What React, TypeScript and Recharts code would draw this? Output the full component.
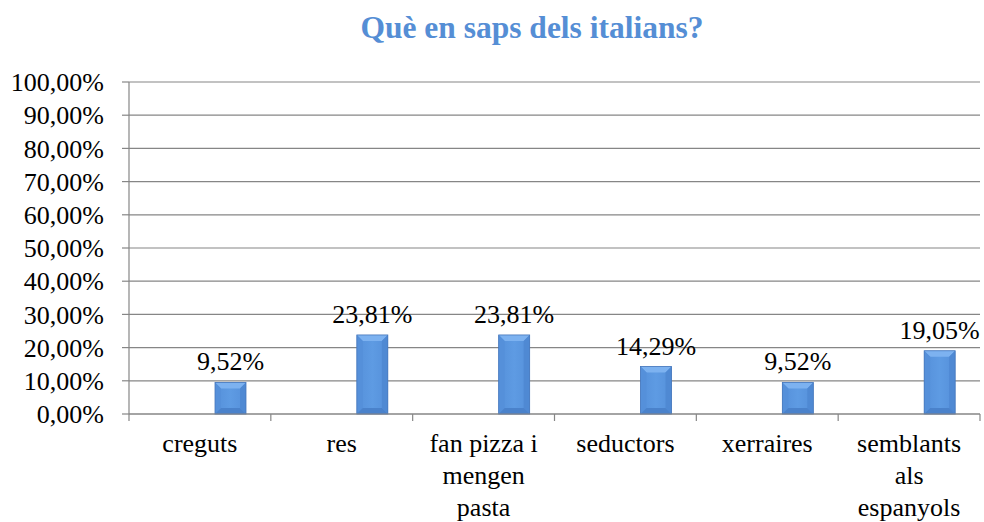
import React from 'react'
import { BarChart, Bar, XAxis, YAxis, CartesianGrid, LabelList } from 'recharts'

const categories = ['creguts', 'res', 'fan pizza i mengen pasta', 'seductors', 'xerraires', 'semblants als espanyols']
const percentages = [9.52, 23.81, 23.81, 14.29, 9.52, 19.05]
const yTicks = [0, 10, 20, 30, 40, 50, 60, 70, 80, 90, 100]

const chartData = categories.map((name, i) => ({ name, value: percentages[i] }))

const FONT = 'Liberation Serif'
const GRID = '#868686'

const fmt = (v: number) => v.toFixed(2).replace('.', ',') + '%'

// word wrap the category names like Excel does
let ctx: CanvasRenderingContext2D | null = null
const wrap = (label: string, maxWidth: number) => {
  if (!ctx) {
    ctx = document.createElement('canvas').getContext('2d')
  }
  if (!ctx) return [label]
  ctx.font = `26px "${FONT}"`
  const lines: string[] = []
  let cur = ''
  label.split(' ').forEach((w) => {
    const next = cur ? cur + ' ' + w : w
    if (cur && ctx!.measureText(next).width > maxWidth) {
      lines.push(cur)
      cur = w
    } else {
      cur = next
    }
  })
  if (cur) lines.push(cur)
  return lines
}

// Excel-style bevelled bar
const BevelBar = (props: any) => {
  const { x, y, width, height } = props
  if (!height || height <= 0) return null
  const b = Math.min(6, height / 3, width / 4)
  return (
    <g>
      <rect x={x} y={y} width={width} height={height} fill="url(#barBody)" />
      <polygon points={`${x},${y} ${x + width},${y} ${x + width - b},${y + b} ${x + b},${y + b}`} fill="#7db2f0" />
      <polygon points={`${x},${y} ${x + b},${y + b} ${x + b},${y + height - b} ${x},${y + height}`} fill="#5590da" />
      <polygon points={`${x + width},${y} ${x + width - b},${y + b} ${x + width - b},${y + height - b} ${x + width},${y + height}`} fill="#4f89d3" />
      <polygon points={`${x},${y + height} ${x + b},${y + height - b} ${x + width - b},${y + height - b} ${x + width},${y + height}`} fill="#4a82cb" />
      <rect x={x} y={y} width={width} height={height} fill="none" stroke="#4677bb" strokeWidth={0.8} />
    </g>
  )
}

const CategoryTick = (props: any) => {
  const { x, y, payload, index, visibleTicksCount } = props
  const half = payload.offset || 0
  const lines = wrap(String(payload.value), 132)
  return (
    <g>
      <line x1={x - half} y1={y - 8} x2={x - half} y2={y - 1} stroke={GRID} strokeWidth={1.2} />
      {index === visibleTicksCount - 1 && (
        <line x1={x + half} y1={y - 8} x2={x + half} y2={y - 1} stroke={GRID} strokeWidth={1.2} />
      )}
      <text x={x} y={y + 30} textAnchor="middle" fontFamily={FONT} fontSize={26} fill="#000">
        {lines.map((l, i) => (
          <tspan key={i} x={x} dy={i === 0 ? 0 : 32}>
            {l}
          </tspan>
        ))}
      </text>
    </g>
  )
}

export default function App() {
  return (
    <div style={{ position: 'absolute', left: 0, top: 0, width: 984, height: 522, background: '#fff' }}>
      <svg width={984} height={60} style={{ position: 'absolute', left: 0, top: 0 }}>
        <text x={532} y={38} textAnchor="middle" fontFamily={FONT} fontSize={31.5} fontWeight="bold" fill="#558ed5">
          Què en saps dels italians?
        </text>
      </svg>
      <BarChart
        width={984}
        height={522}
        data={chartData}
        margin={{ top: 82, right: 4, left: 0, bottom: 0 }}
        barGap={0}
        barCategoryGap={24}
      >
        <defs>
          <linearGradient id="barBody" x1="0" y1="0" x2="1" y2="0">
            <stop offset="0%" stopColor="#5590da" />
            <stop offset="50%" stopColor="#5e9be3" />
            <stop offset="100%" stopColor="#5590da" />
          </linearGradient>
        </defs>
        <CartesianGrid vertical={false} stroke={GRID} strokeWidth={1.2} />
        <XAxis
          dataKey="name"
          height={108}
          interval={0}
          tickLine={false}
          axisLine={{ stroke: GRID, strokeWidth: 1.2 }}
          tick={<CategoryTick />}
        />
        <YAxis
          width={129}
          domain={[0, 100]}
          ticks={yTicks}
          interval={0}
          tickFormatter={fmt}
          tickSize={7}
          tickMargin={18}
          axisLine={{ stroke: GRID, strokeWidth: 1.2 }}
          tickLine={{ stroke: GRID, strokeWidth: 1.2 }}
          tick={{ fontFamily: FONT, fontSize: 26, fill: '#000' }}
        />
        <Bar dataKey="emptyA" isAnimationActive={false} />
        <Bar dataKey="emptyB" isAnimationActive={false} />
        <Bar dataKey="value" isAnimationActive={false} shape={<BevelBar />}>
          <LabelList
            dataKey="value"
            position="top"
            offset={12}
            formatter={(v: any) => fmt(Number(v))}
            fontFamily={FONT}
            fontSize={26}
            fill="#000"
          />
        </Bar>
      </BarChart>
    </div>
  )
}
